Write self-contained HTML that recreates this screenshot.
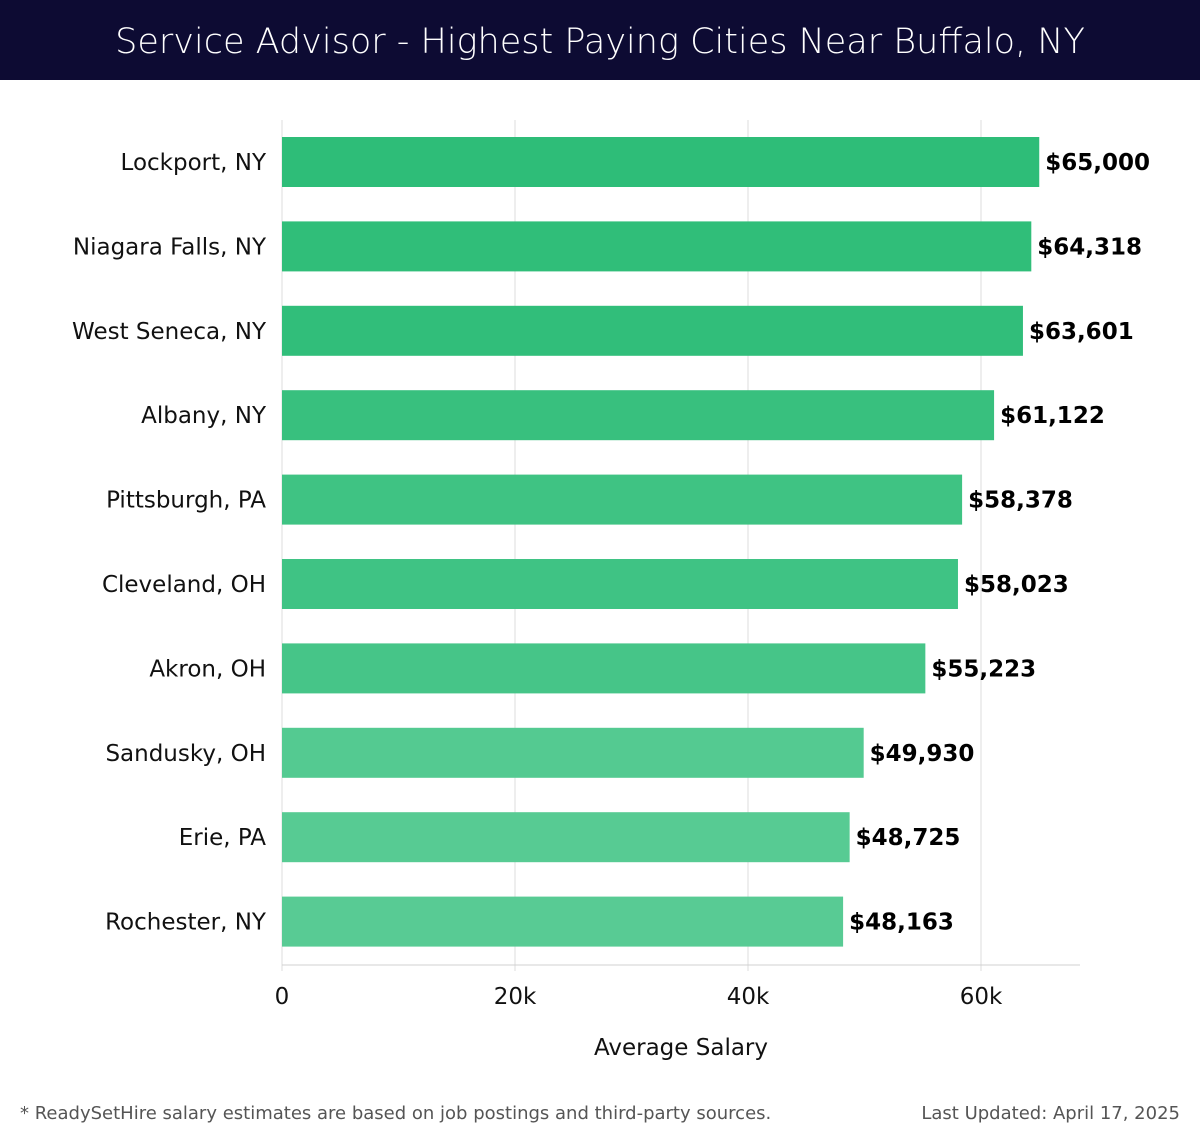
<!DOCTYPE html>
<html><head><meta charset="utf-8">
<style>
body{margin:0;width:1200px;height:1140px;background:#fff;font-family:"DejaVu Sans","Liberation Sans",sans-serif;overflow:hidden}
#hdr{position:absolute;left:0;top:0;width:1200px;height:80px;background:#0d0b33;color:#fff;font-size:35px;text-align:center;line-height:84px;font-weight:300;font-family:"DejaVu Sans","Liberation Sans",sans-serif}
svg{position:absolute;left:0;top:0}
</style></head><body>
<div id="hdr">Service Advisor - Highest Paying Cities Near Buffalo, NY</div>
<svg id="chart" width="1200" height="1140"></svg>
<script>
const categories=["Lockport, NY","Niagara Falls, NY","West Seneca, NY","Albany, NY","Pittsburgh, PA","Cleveland, OH","Akron, OH","Sandusky, OH","Erie, PA","Rochester, NY"];
const values=[65000,64318,63601,61122,58378,58023,55223,49930,48725,48163];
const valueLabels=["$65,000","$64,318","$63,601","$61,122","$58,378","$58,023","$55,223","$49,930","$48,725","$48,163"];
const ticks=[0,20000,40000,60000];
const tickLabels=["0","20k","40k","60k"];
const NS="http://www.w3.org/2000/svg";
const svgEl=document.getElementById('chart');
const x0=282, pxPer=233/20000, plotTop=120, plotBottom=965, step=84.4, firstC=162, barH=50;
const xs=v=>x0+v*pxPer;
const yc=i=>firstC+i*step;
function mk(t,a){const e=document.createElementNS(NS,t);for(const k in a)e.setAttribute(k,a[k]);svgEl.appendChild(e);return e;}
ticks.forEach((t,i)=>{
  const g=mk('line',{x1:xs(t),x2:xs(t),y1:plotTop,y2:plotBottom+6,stroke:'#dcdcdc','stroke-width':1});
  
  
  const tl=mk('text',{x:xs(t),y:1004,'text-anchor':'middle','font-size':23,fill:'#111'});
  tl.textContent=tickLabels[i];
  
  
});
const ax=mk('line',{x1:x0,x2:1080,y1:plotBottom,y2:plotBottom,stroke:'#d0d0d0','stroke-width':1});


const vmin=Math.min(...values), vmax=Math.max(...values);
const c1=[46,189,120], c2=[88,203,148];
values.forEach((v,i)=>{
  const f=(vmax-v)/(vmax-vmin||1);
  const col='rgb('+c1.map((c,k)=>Math.round(c+(c2[k]-c)*f)).join(',')+')';
  const r=mk('rect',{x:x0,y:yc(i)-barH/2,width:xs(v)-x0,height:barH,fill:col});
  
  
  const l=mk('text',{x:266,y:yc(i)+8,'text-anchor':'end','font-size':23,fill:'#111'});
  l.textContent=categories[i];
  
  
  const vl=mk('text',{x:xs(v)+6,y:yc(i)+8,'font-size':23,'font-weight':'bold',fill:'#000'});
  vl.textContent=valueLabels[i];
  
  
});
const at=mk('text',{x:681,y:1055,'text-anchor':'middle','font-size':23,fill:'#111'});
at.textContent='Average Salary';


const fn=mk('text',{x:20,y:1119,'font-size':18,fill:'#555'});
fn.textContent='* ReadySetHire salary estimates are based on job postings and third-party sources.';


const up=mk('text',{x:1180,y:1119,'text-anchor':'end','font-size':18,fill:'#555'});
up.textContent='Last Updated: April 17, 2025';


</script>
</body></html>
